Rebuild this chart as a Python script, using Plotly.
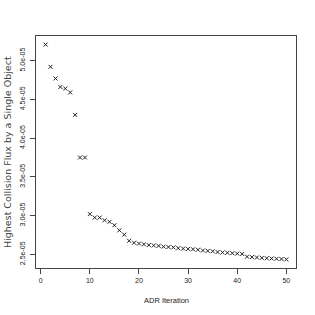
import plotly.graph_objects as go

iterations = list(range(1, 51))
flux = [5.207, 4.92, 4.77, 4.66, 4.64, 4.59, 4.30, 3.75, 3.75, 3.02,
        2.975, 2.975, 2.94, 2.92, 2.876, 2.81, 2.755, 2.675, 2.65, 2.64,
        2.63, 2.62, 2.615, 2.61, 2.60, 2.595, 2.59, 2.58, 2.575, 2.57,
        2.565, 2.56, 2.55, 2.545, 2.54, 2.53, 2.525, 2.52, 2.515, 2.51,
        2.505, 2.47, 2.465, 2.46, 2.455, 2.45, 2.447, 2.443, 2.44, 2.435]
flux = [v * 1e-5 for v in flux]

x_ticks = [0, 10, 20, 30, 40, 50]
y_ticks = [2.5e-5, 3.0e-5, 3.5e-5, 4.0e-5, 4.5e-5, 5.0e-5]
y_ticklabels = ["2.5e-05", "3.0e-05", "3.5e-05", "4.0e-05", "4.5e-05", "5.0e-05"]
x_title = "ADR Iteration"
y_title = "Highest Collision Flux by a Single Object"

fig = go.Figure()
fig.add_trace(go.Scatter(
    x=iterations, y=flux, mode="markers",
    marker=dict(symbol="x-thin", size=4, line=dict(color="#222222", width=1)),
    hoverinfo="skip", showlegend=False,
))

fam = "Liberation Sans, Arial, sans-serif"
tick_font = dict(family=fam, size=7, color="#222222")
xtitle_font = dict(family=fam, size=7.5, color="#222222")
ytitle_font = dict(family="DejaVu Sans, sans-serif", size=9.5, color="#444444")
xmin, xmax = min(iterations), max(iterations)
ymin, ymax = min(flux), max(flux)
xpad = (xmax - xmin) * 0.04
ypad = (ymax - ymin) * 0.04

fig.update_layout(
    width=315, height=315,
    margin=dict(l=36, r=19, t=36, b=47),
    paper_bgcolor="white", plot_bgcolor="white",
    font=tick_font,
    xaxis=dict(
        range=[xmin - xpad, xmax + xpad], automargin=False,
        tickvals=x_ticks, ticks="outside", ticklen=5, tickwidth=1, tickcolor="#444444",
        showline=True, linecolor="#444444", linewidth=1, mirror=True,
        showgrid=False, zeroline=False, ticklabelstandoff=1,
        tickfont=tick_font,
    ),
    yaxis=dict(
        range=[ymin - ypad, ymax + ypad], automargin=False,
        tickvals=y_ticks, ticktext=y_ticklabels, tickangle=-90,
        ticks="outside", ticklen=5, tickwidth=1, tickcolor="#444444",
        showline=True, linecolor="#444444", linewidth=1, mirror=True,
        showgrid=False, zeroline=False, ticklabelstandoff=2,
        tickfont=tick_font,
    ),
    annotations=[
        dict(text=x_title, xref="paper", yref="paper", x=0.5, y=0,
             xanchor="center", yanchor="middle", yshift=-32,
             showarrow=False, font=xtitle_font),
        dict(text=y_title, xref="paper", yref="paper", x=0, y=0.5,
             xanchor="center", yanchor="middle", xshift=-29, textangle=-90,
             showarrow=False, font=ytitle_font),
    ],
)

fig.write_html("out.html", config={"displayModeBar": False},
               post_script="document.body.style.margin='0';")
